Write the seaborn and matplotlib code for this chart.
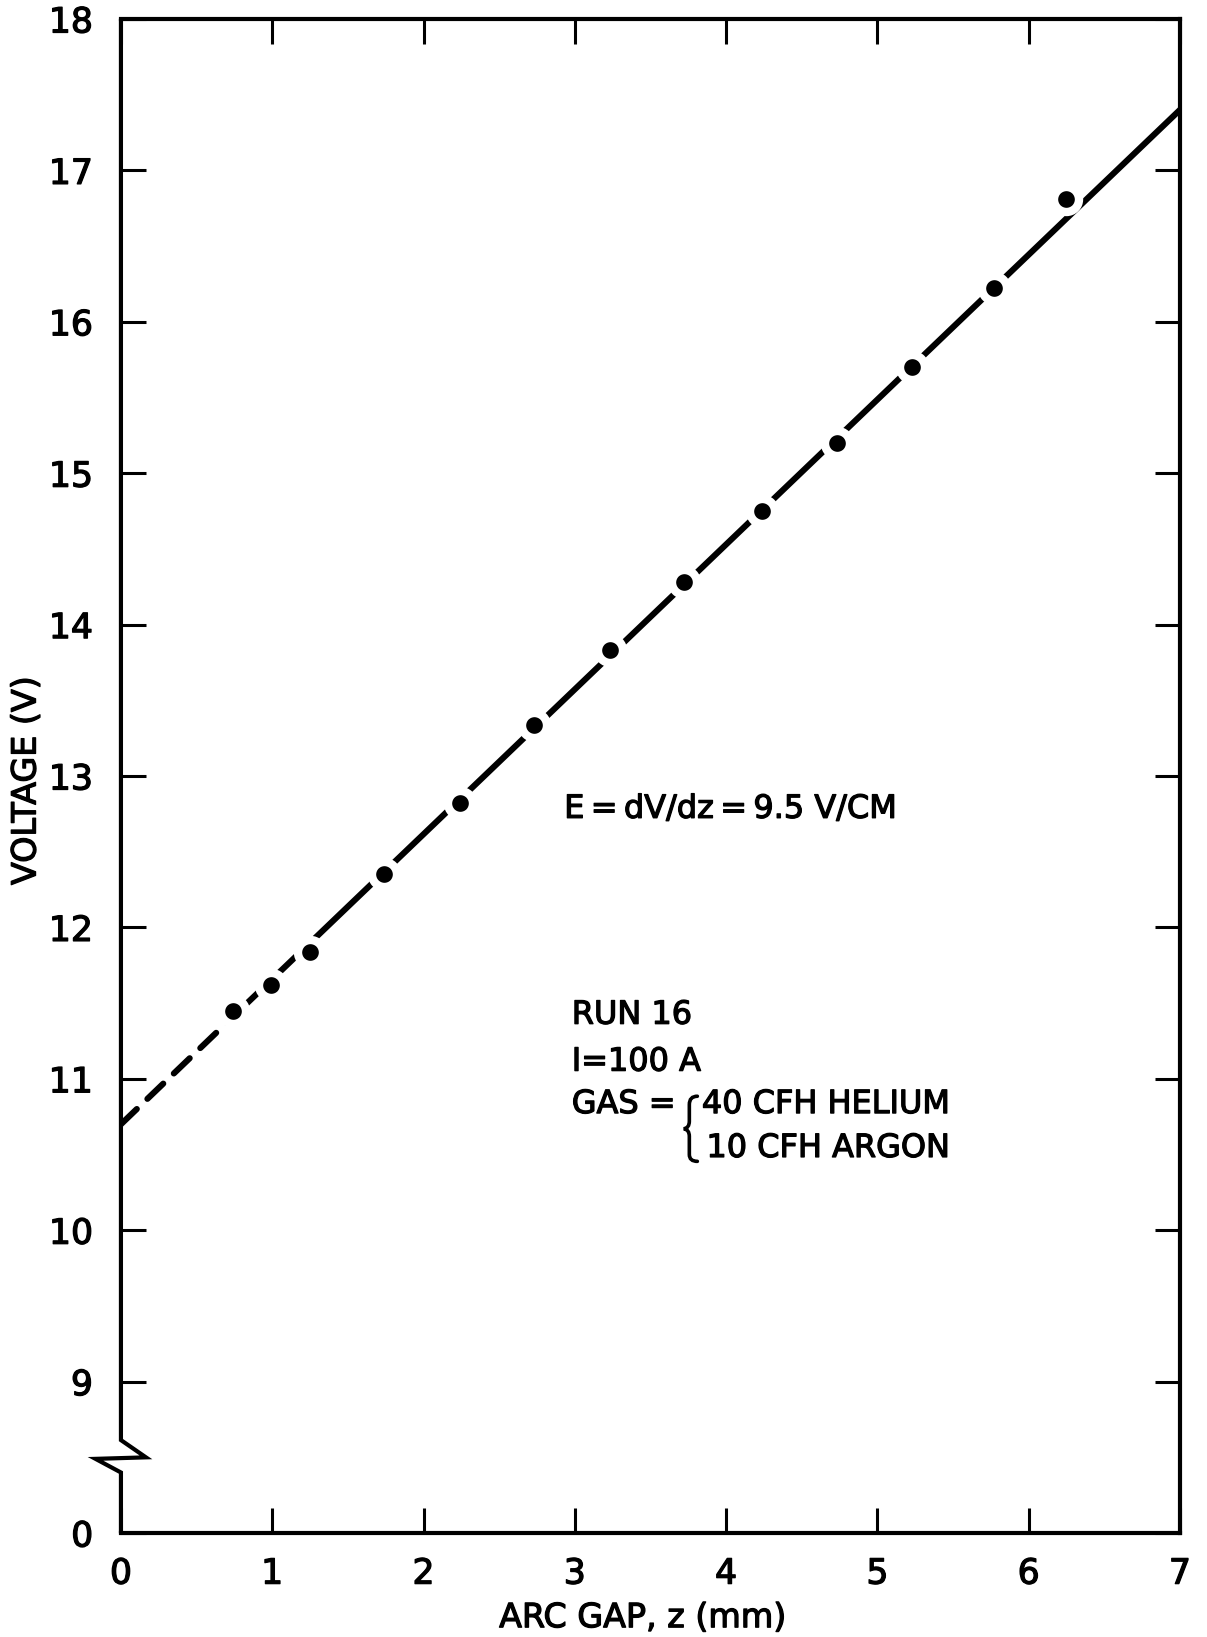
import matplotlib
matplotlib.use("Agg")
import matplotlib.pyplot as plt
import matplotlib.patheffects as pe
from matplotlib.path import Path
from matplotlib.patches import PathPatch
import seaborn as sns
import pandas as pd

# Measured arc voltage against arc gap
gap_mm = [0.74, 0.99, 1.25, 1.74, 2.24, 2.73, 3.23, 3.72, 4.24, 4.73, 5.23, 5.77, 6.25]
voltage = [11.45, 11.62, 11.84, 12.35, 12.82, 13.34, 13.83, 14.28, 14.75, 15.20, 15.70, 16.22, 16.81]

# Straight-line fit: extrapolated (dashed) part and fitted (solid) part
fit_gap_extrap = [0.0, 0.74]
fit_volt_extrap = [10.70, 11.41]
fit_gap_solid = [0.74, 7.0]
fit_volt_solid = [11.41, 17.40]

x_ticks = [0, 1, 2, 3, 4, 5, 6, 7]
y_ticks = [8, 9, 10, 11, 12, 13, 14, 15, 16, 17, 18]
y_tick_labels = ["0", "9", "10", "11", "12", "13", "14", "15", "16", "17", "18"]

sns.set_style("ticks")
plt.rcParams["font.family"] = ["DejaVu Sans"]

# slightly heavier lettering
heavy = [pe.withStroke(linewidth=0.9, foreground="black")]

fig = plt.figure(figsize=(12.07, 16.37), dpi=100)
ax = fig.add_axes([0.1002, 0.0635, 0.8774, 0.9249])

points = pd.DataFrame({"gap": gap_mm, "volt": voltage})

sns.lineplot(x=fit_gap_extrap, y=fit_volt_extrap, ax=ax, color="black",
             linewidth=4.4, linestyle=(0, (3.6, 2.4)), dash_capstyle="round",
             estimator=None, zorder=2)
sns.lineplot(x=fit_gap_solid, y=fit_volt_solid, ax=ax, color="black",
             linewidth=4.4, solid_capstyle="round", estimator=None, zorder=2)
sns.scatterplot(data=points, x="gap", y="volt", ax=ax, color="black",
                s=18 ** 2, edgecolor="white", linewidth=6, zorder=3)

ax.set_xlim(0, 7)
ax.set_ylim(8, 18)
ax.set_xticks(x_ticks)
ax.set_xticklabels([str(t) for t in x_ticks])
ax.set_yticks(y_ticks)
ax.set_yticklabels(y_tick_labels)

ax.tick_params(axis="both", direction="in", length=18, width=2.2,
               labelsize=25, color="black", labelcolor="black",
               top=True, right=True)
ax.tick_params(axis="y", pad=20)
ax.tick_params(axis="x", pad=17)
for lab in ax.get_xticklabels() + ax.get_yticklabels():
    lab.set_path_effects(heavy)

for side in ["top", "right", "bottom"]:
    ax.spines[side].set_linewidth(3.0)
    ax.spines[side].set_color("black")
ax.spines["left"].set_visible(False)

# Left axis drawn with a break mark to show the suppressed zero
trans = ax.get_yaxis_transform()
spine_x = [0.0, 0.0, 0.0236, -0.024, 0.0, 0.0]
spine_y = [18.0, 8.614, 8.50, 8.49, 8.40, 8.0]
ax.plot(spine_x, spine_y, transform=trans, color="black", linewidth=3.0,
        solid_joinstyle="miter", clip_on=False, zorder=5)

ax.set_xlabel("ARC GAP, z (mm)", fontsize=24, color="black",
              path_effects=heavy)
ax.set_ylabel("VOLTAGE (V)", fontsize=24, color="black", path_effects=heavy)
ax.xaxis.set_label_coords(0.493, -0.045)
ax.yaxis.set_label_coords(-0.074, 0.497)

txt = dict(fontsize=23, color="black", ha="left", va="center",
           path_effects=heavy)
ax.text(2.93, 12.78, "E\u2009=\u2009dV/dz\u2009=\u20099.5 V/CM", **txt)
ax.text(2.98, 11.42, "RUN 16", **txt)
ax.text(2.98, 11.11, "I=100 A", **txt)
ax.text(2.98, 10.83, "GAS =", **txt)
ax.text(3.84, 10.83, "40 CFH HELIUM", **txt)
ax.text(3.87, 10.54, "10 CFH ARGON", **txt)

# curly brace grouping the two gas lines
brace_verts = [(3.81, 10.885), (3.757, 10.885), (3.757, 10.83),
               (3.757, 10.72),
               (3.757, 10.675), (3.72, 10.67),
               (3.757, 10.665), (3.757, 10.62),
               (3.757, 10.50),
               (3.757, 10.455), (3.81, 10.455)]
brace_codes = [Path.MOVETO, Path.CURVE3, Path.CURVE3, Path.LINETO,
               Path.CURVE3, Path.CURVE3, Path.CURVE3, Path.CURVE3,
               Path.LINETO, Path.CURVE3, Path.CURVE3]
ax.add_patch(PathPatch(Path(brace_verts, brace_codes), facecolor="none",
                       edgecolor="black", linewidth=2.6, capstyle="round"))

fig.savefig("out.png", dpi=100, facecolor="white")
